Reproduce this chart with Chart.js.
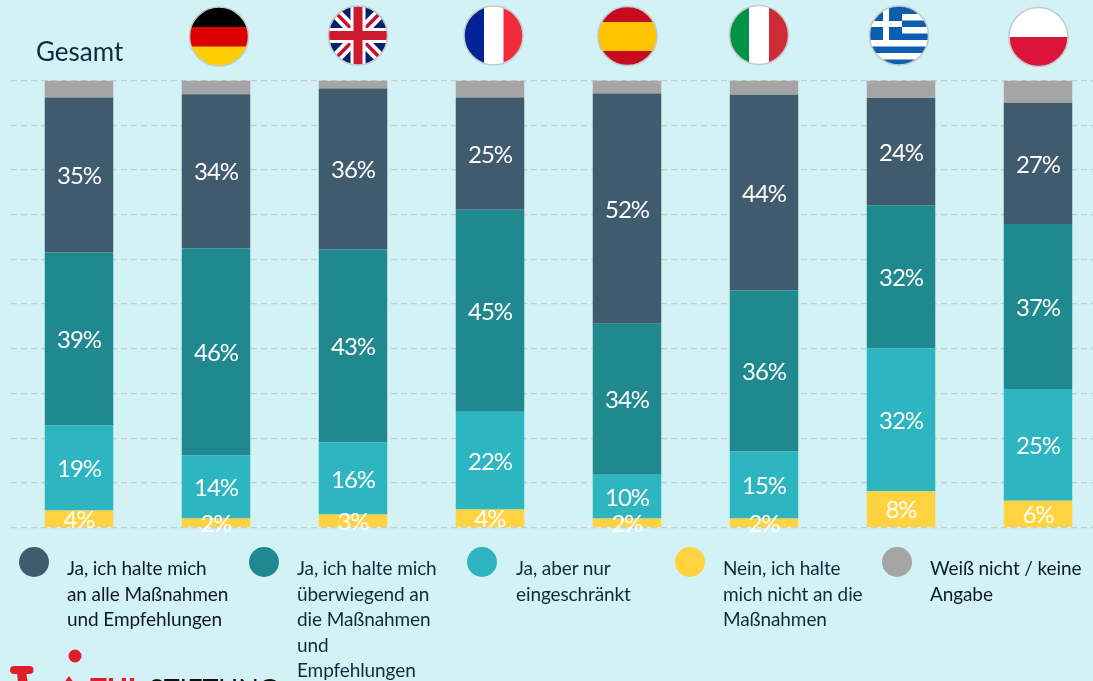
<!DOCTYPE html>
<html><head><meta charset="utf-8">
<style>
html,body{margin:0;padding:0;width:1093px;height:681px;overflow:hidden;background:#d2f2f5;font-family:Lato,sans-serif;color:#0f2a3f}
#wrap{position:absolute;left:0;top:0;width:1093px;height:681px;overflow:hidden}
canvas{display:block}
.t{position:absolute;font-size:19px;line-height:25.5px;white-space:pre;letter-spacing:-0.1px}
.d{position:absolute;width:30px;height:30px;border-radius:50%}
#g{position:absolute;left:36px;top:35px;font-size:26px;line-height:32px}
svg{position:absolute;left:0;top:0}
</style></head><body>
<div id="wrap"><canvas id="c" width="1107" height="681"></canvas></div>
<div id="g">Gesamt</div>
<div id="leg"></div>
<svg width="1093" height="681" viewBox="0 0 1093 681">
<defs>
<clipPath id="f1"><circle cx="219" cy="36.500" r="29.500"/></clipPath>
<clipPath id="f2"><circle cx="358" cy="35.500" r="29.500"/></clipPath>
<clipPath id="f3"><circle cx="493.500" cy="35.500" r="29.500"/></clipPath>
<clipPath id="f4"><circle cx="627.500" cy="36" r="29.500"/></clipPath>
<clipPath id="f5"><circle cx="759" cy="35" r="29.500"/></clipPath>
<clipPath id="f6"><circle cx="899" cy="35.500" r="29.500"/></clipPath>
<clipPath id="f7"><circle cx="1038.500" cy="37" r="29.500"/></clipPath>
</defs>
<g clip-path="url(#f1)"><rect x="189" y="6" width="60" height="21" fill="#000"/><rect x="189" y="27" width="60" height="20" fill="#dd0000"/><rect x="189" y="46.500" width="60" height="21" fill="#ffce00"/></g>
<g clip-path="url(#f2)"><rect x="328" y="5" width="60" height="61" fill="#012169"/>
<path d="M328 5L388 66M388 5L328 66" stroke="#fff" stroke-width="11"/><path d="M328 5L388 66M388 5L328 66" stroke="#c8102e" stroke-width="3.500"/>
<path d="M358 5V66M328 35.500H388" stroke="#fff" stroke-width="15"/><path d="M358 5V66M328 35.500H388" stroke="#ce1a30" stroke-width="9"/></g>
<g clip-path="url(#f3)"><rect x="464" y="5" width="20" height="61" fill="#002395"/><rect x="484" y="5" width="20" height="61" fill="#fff"/><rect x="503.500" y="5" width="20" height="61" fill="#f02b3c"/></g>
<g clip-path="url(#f4)"><rect x="598" y="6" width="60" height="60" fill="#c60b1e"/><rect x="598" y="22" width="60" height="29" fill="#ffc400"/></g>
<g clip-path="url(#f5)"><rect x="729" y="5" width="20" height="60" fill="#009246"/><rect x="749" y="5" width="20" height="60" fill="#fff"/><rect x="769" y="5" width="20" height="60" fill="#ce2b37"/></g>
<g clip-path="url(#f6)"><rect x="869" y="5" width="60" height="61" fill="#0d5eaf"/>
<path d="M869 17.250H929M869 30.250H929M869 43.250H929M869 56.250H929" stroke="#fff" stroke-width="6.500"/>
<rect x="869" y="5" width="33" height="35" fill="#0d5eaf"/><path d="M886 5V40M869 24H902" stroke="#fff" stroke-width="6"/></g>
<g clip-path="url(#f7)"><rect x="1008" y="7" width="61" height="30" fill="#fff"/><rect x="1008" y="37" width="61" height="30" fill="#dc143c"/></g>
<g fill="none" stroke="#c4c9cc" stroke-width="1.500">
<circle cx="219" cy="36.500" r="29.500"/><circle cx="358" cy="35.500" r="29.500"/><circle cx="493.500" cy="35.500" r="29.500"/><circle cx="627.500" cy="36" r="29.500"/><circle cx="759" cy="35" r="29.500"/><circle cx="899" cy="35.500" r="29.500"/><circle cx="1038.500" cy="37" r="29.500"/></g>
<circle cx="75" cy="656" r="6.500" fill="#dc1f2b"/>
<path d="M14 670H29.500" stroke="#dc1f2b" stroke-width="8" stroke-linecap="round" fill="none"/>
<path d="M17 672H26L28 683H18Z" fill="#dc1f2b"/>
<path d="M64 683L69 676L74 683Z" fill="#dc1f2b"/>
<text x="90" y="699" font-family="Lato" font-weight="900" font-size="28" fill="#dc1f2b">TUI</text>
<text x="149" y="699" font-family="Lato" font-size="27" fill="#111">STIFTUNG</text>
</svg>
<script src="https://cdn.jsdelivr.net/npm/chart.js@4"></script>
<script>
const categories=["Gesamt","Deutschland","Großbritannien","Frankreich","Spanien","Italien","Griechenland","Polen"];
const nein=[3.8,2.0,2.9,4.0,2.0,2.0,8.1,6.0];
const eingeschraenkt=[19.0,14.1,16.1,21.9,9.8,15.0,32.0,25.0];
const ueberwiegend=[38.7,46.4,43.2,45.2,33.8,36.0,32.0,36.9];
const alle=[34.7,34.4,36.0,25.1,51.5,43.8,24.0,27.1];
const keine=[3.8,3.1,1.8,3.8,2.9,3.2,3.9,5.0];
const labels=["Nein, ich halte mich nicht an die Maßnahmen","Ja, aber nur eingeschränkt","Ja, ich halte mich überwiegend an die Maßnahmen und Empfehlungen","Ja, ich halte mich an alle Maßnahmen und Empfehlungen","Weiß nicht / keine Angabe"];
const colors=["#ffd23f","#2db5c1","#20888f","#405b6e","#a5a5a5"];
const series=[nein,eingeschraenkt,ueberwiegend,alle,keine];
const yTicks=[0,10,20,30,40,50,60,70,80,90,100];

const legendItems=[
 {c:"#405b6e",x:18.5,tx:67,col:"#0b1a26",lines:"Ja, ich halte mich\nan alle Maßnahmen\nund Empfehlungen"},
 {c:"#20888f",x:249,tx:297,col:"#0f2a3f",lines:"Ja, ich halte mich\nüberwiegend an\ndie Maßnahmen\nund\nEmpfehlungen"},
 {c:"#2db5c1",x:467,tx:516,col:"#0f2a3f",lines:"Ja, aber nur\neingeschränkt"},
 {c:"#ffd23f",x:675,tx:723,col:"#0f2a3f",lines:"Nein, ich halte\nmich nicht an die\nMaßnahmen"},
 {c:"#a5a5a5",x:882,tx:930,col:"#0b1a26",lines:"Weiß nicht / keine\nAngabe"}];
const leg=document.getElementById('leg');
legendItems.forEach(i=>{
 const d=document.createElement('div');d.className='d';d.style.cssText=`left:${i.x}px;top:547px;background:${i.c}`;leg.appendChild(d);
 const t=document.createElement('div');t.className='t';t.style.cssText=`left:${i.tx}px;top:555px;color:${i.col}`;t.textContent=i.lines;leg.appendChild(t);
});

const barLabels={id:'barLabels',afterDatasetsDraw(chart){
 const ctx=chart.ctx;ctx.save();ctx.fillStyle='#fff';ctx.font='24px Lato';ctx.letterSpacing='-1px';ctx.textAlign='center';ctx.textBaseline='middle';
 chart.data.datasets.forEach((ds,di)=>{
  if(di===4)return;
  chart.getDatasetMeta(di).data.forEach((el,i)=>{
   const p=el.getProps(['x','y','base'],true);
   ctx.fillText(Math.round(ds.data[i])+'%',p.x,(p.y+p.base)/2+1.5);
  });
 });
 ctx.restore();
}};

new Chart(document.getElementById('c'),{
 type:'bar',
 data:{labels:categories,datasets:series.map((d,i)=>({label:labels[i],data:d,backgroundColor:colors[i],borderWidth:0,barPercentage:1,categoryPercentage:68.5/137}))},
 options:{responsive:false,animation:false,
  layout:{padding:{left:10.5,right:0.5,top:80.5,bottom:153.5}},
  plugins:{legend:{display:false},tooltip:{enabled:false}},
  scales:{
   x:{stacked:true,display:false,grid:{display:false}},
   y:{stacked:true,min:0,max:100,afterBuildTicks(s){s.ticks=yTicks.map(v=>({value:v}))},
    border:{display:false,dash:[6,4]},ticks:{display:false},
    grid:{color:'#c9cccd',lineWidth:1.2,drawTicks:false}}
  }
 },
 plugins:[barLabels]
});
</script>
</body></html>
